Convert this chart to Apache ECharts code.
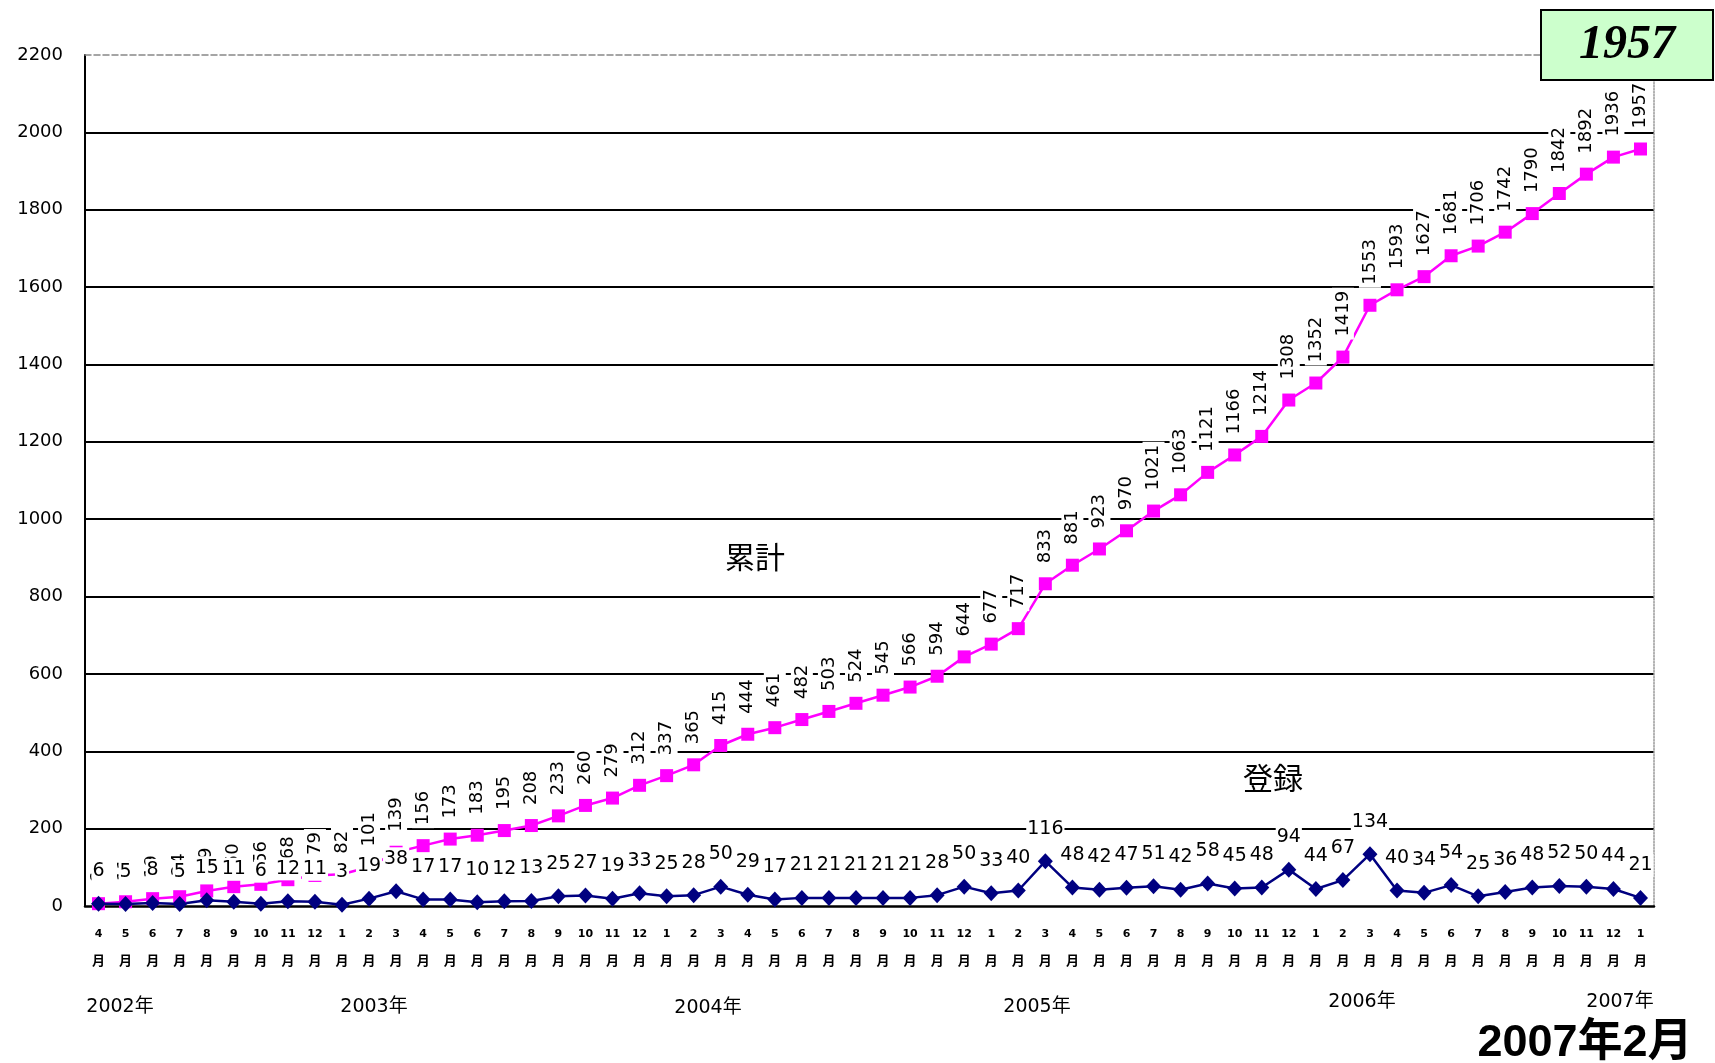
<!DOCTYPE html>
<html><head><meta charset="utf-8">
<script src="https://cdn.jsdelivr.net/npm/echarts@6/dist/echarts.min.js"></script>
<style>html,body{margin:0;padding:0;background:#fff}#c{width:1715px;height:1063px}</style>
</head><body><div id="c"></div>
<script>
const months = ['4','5','6','7','8','9','10','11','12',
  '1','2','3','4','5','6','7','8','9','10','11','12',
  '1','2','3','4','5','6','7','8','9','10','11','12',
  '1','2','3','4','5','6','7','8','9','10','11','12',
  '1','2','3','4','5','6','7','8','9','10','11','12',
  '1'];
const cumulative = [6,11,19,24,39,50,56,68,79,82,101,139,156,173,183,195,208,233,260,279,312,337,365,415,444,461,482,503,524,545,566,594,644,677,717,833,881,923,970,1021,1063,1121,1166,1214,1308,1352,1419,1553,1593,1627,1681,1706,1742,1790,1842,1892,1936,1957];
const monthly = [6,5,8,5,15,11,6,12,11,3,19,38,17,17,10,12,13,25,27,19,33,25,28,50,29,17,21,21,21,21,21,28,50,33,40,116,48,42,47,51,42,58,45,48,94,44,67,134,40,34,54,25,36,48,52,50,44,21];
const yearLabels = ['2002年','2003年','2004年','2005年','2006年','2007年'];
const yTicks = {min:0, max:2200, interval:200};
const seriesNames = ['累計','登録'];
const totalText = '1957';
const dateText = '2007年2月';

const chart = echarts.init(document.getElementById('c'));
const yearPos = [[120,1007],[374,1007],[708,1008],[1037,1007],[1362,1002],[1620,1002]];
const gfx = yearLabels.map((t,i)=>({type:'text', x:yearPos[i][0], y:yearPos[i][1],
  style:{text:t, fill:'#000', font:'19px "DejaVu Sans","Noto Sans CJK JP"', align:'center', verticalAlign:'middle'}}));
gfx.push({type:'rect', shape:{x:1541,y:10,width:172,height:70}, style:{fill:'#CCFFCC', stroke:'#000', lineWidth:2}, z:100});
gfx.push({type:'text', x:1627, y:46, z:101, style:{text:totalText, fill:'#000', font:'italic bold 48px "Liberation Serif"', align:'center', verticalAlign:'middle'}});
gfx.push({type:'text', x:1585, y:1044, style:{text:dateText, fill:'#000', font:'bold 45px "Liberation Sans","Noto Sans CJK JP"', align:'center', verticalAlign:'middle'}});
gfx.push({type:'text', x:755, y:557, z:50, style:{text:seriesNames[0], fill:'#000', font:'30px "Noto Sans CJK JP"', align:'center', verticalAlign:'middle'}});
gfx.push({type:'text', x:1273, y:778, z:50, style:{text:seriesNames[1], fill:'#000', font:'30px "Noto Sans CJK JP"', align:'center', verticalAlign:'middle'}});

chart.setOption({
  animation:false,
  backgroundColor:'#fff',
  grid:{left:85, right:61, top:55, bottom:157},
  xAxis:[{
    type:'category', data:months, boundaryGap:true,
    axisLine:{onZero:false, lineStyle:{color:'#000', width:2.5}},
    axisTick:{inside:true, length:5, lineStyle:{color:'#000', width:1.5}},
    axisLabel:{interval:0, margin:15, formatter:v=>'{n|'+v+'}\n{m|月}',
      rich:{n:{fontSize:11, fontWeight:'bold', lineHeight:26, fontFamily:'DejaVu Sans', color:'#000'},
            m:{fontSize:13, fontWeight:'bold', lineHeight:26, fontFamily:'Noto Sans CJK JP', color:'#000'}}},
    splitLine:{show:false}
  },{
    type:'category', data:months, position:'top', boundaryGap:true,
    axisLine:{show:true, onZero:false, lineStyle:{color:'#888', width:1.5, type:'dashed'}},
    axisTick:{show:false}, axisLabel:{show:false}
  }],
  yAxis:[{
    type:'value', min:yTicks.min, max:yTicks.max, interval:yTicks.interval,
    axisLine:{show:true, onZero:false, lineStyle:{color:'#000', width:2}},
    axisTick:{show:false},
    axisLabel:{margin:22, fontSize:18, fontFamily:'DejaVu Sans', color:'#000', formatter:v=>String(v)},
    splitLine:{show:true, showMaxLine:false, showMinLine:false, lineStyle:{color:'#000', width:2}}
  },{
    type:'value', min:yTicks.min, max:yTicks.max, interval:yTicks.interval, position:'right',
    axisLine:{show:true, onZero:false, lineStyle:{color:'#999', width:1.5, type:'dotted'}},
    axisTick:{show:false}, axisLabel:{show:false}, splitLine:{show:false}
  }],
  series:[{
    name:seriesNames[0], type:'line', data:cumulative,
    symbol:'rect', symbolSize:13,
    itemStyle:{color:'#FF00FF'}, lineStyle:{color:'#FF00FF', width:2.5},
    label:{show:true, position:'top', distance:11, rotate:90, align:'left', verticalAlign:'middle',
      fontSize:18, fontFamily:'DejaVu Sans', color:'#000', backgroundColor:'#fff', padding:[2,3]}
  },{
    name:seriesNames[1], type:'line', data:monthly,
    symbol:'diamond', symbolSize:[15,16],
    itemStyle:{color:'#000080'}, lineStyle:{color:'#000080', width:2.5},
    label:{show:true, position:'top', distance:13, fontSize:19, fontFamily:'DejaVu Sans', color:'#000',
      backgroundColor:'#fff', padding:[2,1]}
  }],
  graphic:gfx
});
</script></body></html>
